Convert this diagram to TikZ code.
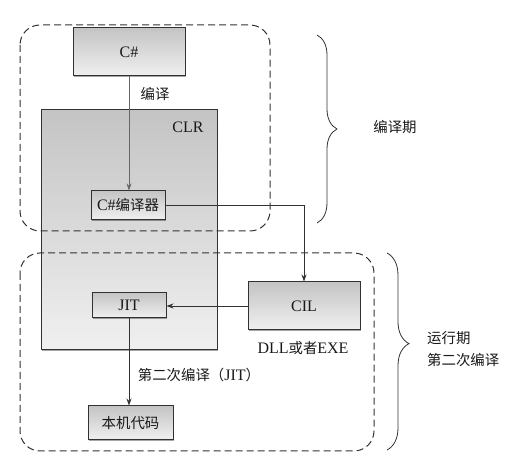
\documentclass[tikz,border=0pt]{standalone}
\usepackage{fontspec}
\setmainfont{Liberation Serif}
\newfontfamily\cjk{Noto Sans CJK SC}[Scale=0.9]
\usetikzlibrary{shadows,decorations.pathreplacing,arrows.meta}
\definecolor{boxtop}{RGB}{196,196,196}
\definecolor{boxbot}{RGB}{240,240,240}
\definecolor{edge}{RGB}{50,50,50}
\definecolor{txt}{RGB}{25,25,25}
\newcommand\zh[1]{{\cjk #1}}
\tikzset{
  box/.style={draw=edge, line width=1pt, rectangle, top color=boxtop, bottom color=boxbot,
    drop shadow={shadow xshift=1.2pt, shadow yshift=-1.2pt, fill=black, opacity=0.35},
    inner sep=0pt, text=txt, font=\fontsize{16}{18}\selectfont},
  region/.style={draw=edge, line width=1pt, dash pattern=on 7pt off 4pt, rounded corners=20pt},
  lbl/.style={text=txt, font=\fontsize{16}{18}\selectfont, inner sep=0pt},
  conn/.style={draw=edge, line width=0.9pt, -{Stealth[length=7pt,width=5pt]}},
  bracestyle/.style={draw=edge, line width=0.8pt, decorate},
}
\begin{document}
\begin{tikzpicture}[x=1pt,y=-1pt]
\useasboundingbox (0,0) rectangle (515,465);
% CLR box
\node[box, minimum width=176pt, minimum height=240pt] (clr) at (129,230) {};
\node[lbl] (clrlbl) at (188,127) {CLR};
% dashed regions
\draw[region] (20,25) rectangle (270,231);
\draw[region] (20,253) rectangle (374,451);
% boxes
\node[box, minimum width=112pt, minimum height=48pt] (cs) at (129,52) {C\#};
\node[box, minimum width=74pt, minimum height=29pt] (comp) at (128,205.5) {C\#\zh{编译器}};
\node[box, minimum width=112pt, minimum height=48pt] (cil) at (304,306) {CIL};
\node[box, minimum width=74pt, minimum height=25pt] (jit) at (129,305.5) {JIT};
\node[box, minimum width=85pt, minimum height=34pt] (nat) at (130.5,423) {\zh{本机代码}};
% connectors
\draw[conn, draw=gray!80!black] (cs.south) -- (cs.south |- comp.north);
\draw[conn] (comp.east) -| (cil.north);
\draw[conn] (cil.west) -- (jit.east |- cil.west);
\draw[conn] (jit.south) -- (jit.south |- nat.north);
% labels
\node[lbl] (l1) at (155,94) {\zh{编译}};
\node[lbl] (l2) at (303,348) {DLL\zh{或者}EXE};
\node[lbl] (l3) at (199,375) {\zh{第二次编译（}JIT\zh{）}};
\node[lbl] (l4) at (395,127) {\zh{编译期}};
\node[lbl, align=left, anchor=west, font=\fontsize{16}{22}\selectfont] (l5) at (427,349) {\zh{运行期}\\\zh{第二次编译}};
% braces
\coordinate (b1a) at (317,35);
\coordinate (b1b) at (317,223);
\draw[bracestyle, decoration={brace, amplitude=20pt, aspect=0.5}] (b1a) -- (b1b);
\coordinate (b2a) at (387,253);
\coordinate (b2b) at (387,450);
\draw[bracestyle, decoration={brace, amplitude=22pt, aspect=0.46}] (b2a) -- (b2b);
\end{tikzpicture}
\end{document}
